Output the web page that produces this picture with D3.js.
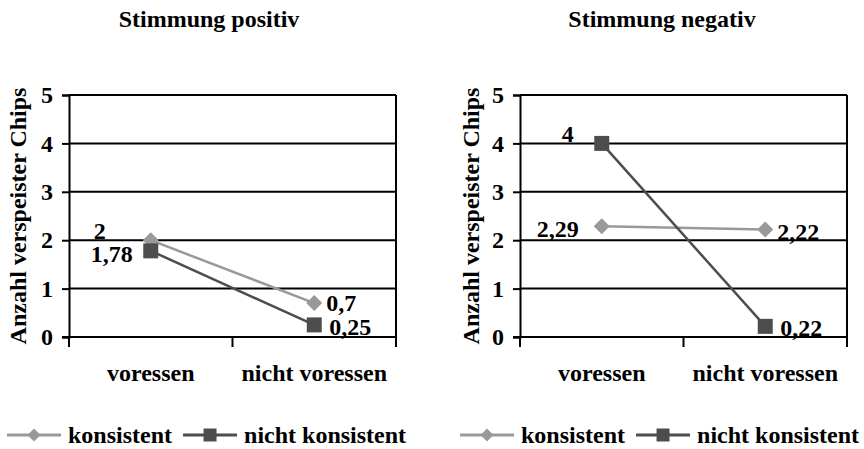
<!DOCTYPE html>
<html>
<head>
<meta charset="utf-8">
<script src="https://cdn.jsdelivr.net/npm/d3@7/dist/d3.min.js"></script>
<style>
  html, body { margin: 0; padding: 0; background: #fff; }
  svg { display: block; }
  text { font-family: "Liberation Serif", "Times New Roman", serif; font-weight: bold; fill: #000; }
</style>
</head>
<body>
<svg id="chart" width="864" height="449"></svg>
<script>
// Categories and series
const categories = ["voressen", "nicht voressen"];
const seriesNames = ["konsistent", "nicht konsistent"];
const panelTitles = ["Stimmung positiv", "Stimmung negativ"];
const yAxisTitle = "Anzahl verspeister Chips";
const yTicks = [0, 1, 2, 3, 4, 5];

// Mean number of chips eaten, mood positive
const positivKonsistent = [2, 0.7];
const positivNichtKonsistent = [1.78, 0.25];
// Mean number of chips eaten, mood negative
const negativKonsistent = [2.29, 2.22];
const negativNichtKonsistent = [4, 0.22];

// Styling
const seriesColors = ["#999999", "#4d4d4d"];
const FONT = 24;

// Panel layout and per-point label placement (dx, dy relative to the marker)
const panels = [
  {
    title: panelTitles[0], titleX: 209,
    left: 69, right: 396, axisTitleX: 26,
    values: [positivKonsistent, positivNichtKonsistent],
    labelPlacement: [
      [{anchor: "end", dx: -45, dy: -10}, {anchor: "start", dx: 12, dy: -1}],
      [{anchor: "end", dx: -18, dy: 3}, {anchor: "start", dx: 15, dy: 2}]
    ],
    legendX: 7
  },
  {
    title: panelTitles[1], titleX: 662,
    left: 520, right: 847, axisTitleX: 479,
    values: [negativKonsistent, negativNichtKonsistent],
    labelPlacement: [
      [{anchor: "end", dx: -23, dy: 2}, {anchor: "start", dx: 12, dy: 2}],
      [{anchor: "end", dx: -28, dy: -10}, {anchor: "start", dx: 15, dy: 1}]
    ],
    legendX: 460
  }
];

const TOP = 95, BOTTOM = 337;
const svg = d3.select("#chart");
const locale = d3.formatLocale({decimal: ",", thousands: ".", grouping: [3], currency: ["", " €"]});
const fmt = locale.format("~r");

function markerPath(kind, size) {
  const h = size / 2;
  if (kind === 0) {
    return `M0,${-h}L${h},0L0,${h}L${-h},0Z`;
  }
  return `M${-h},${-h}H${h}V${h}H${-h}Z`;
}

panels.forEach(p => {
  const g = svg.append("g");
  const x = d3.scaleBand().domain(categories).range([p.left, p.right]).padding(0);
  const y = d3.scaleLinear().domain([0, 5]).range([BOTTOM, TOP]);

  // Title
  g.append("text")
    .attr("x", p.titleX).attr("y", 27)
    .attr("text-anchor", "middle")
    .style("font-size", FONT + "px")
    .text(p.title);

  // Horizontal gridlines
  g.append("g").selectAll("line")
    .data(yTicks.filter(t => t > 0))
    .join("line")
    .attr("x1", p.left).attr("x2", p.right)
    .attr("y1", d => y(d)).attr("y2", d => y(d))
    .attr("stroke", "#000").attr("stroke-width", 2);

  // Right border of plot area
  g.append("line")
    .attr("x1", p.right).attr("x2", p.right)
    .attr("y1", y(5)).attr("y2", y(0))
    .attr("stroke", "#000").attr("stroke-width", 2);

  // Value axis
  const yAxis = d3.axisLeft(y).tickValues(yTicks).tickSize(7).tickPadding(9).tickFormat(d3.format("d"));
  const ya = g.append("g").attr("transform", `translate(${p.left},0)`).call(yAxis);
  ya.select(".domain").attr("stroke", "#000").attr("stroke-width", 2);
  ya.selectAll(".tick line").attr("stroke", "#000").attr("stroke-width", 2);
  ya.selectAll(".tick text")
    .style("font-size", FONT + "px")
    .style("font-family", '"Liberation Serif", serif')
    .style("font-weight", "bold")
    .attr("fill", "#000");

  // Category axis: baseline with ticks at the band boundaries
  g.append("line")
    .attr("x1", p.left - 7).attr("x2", p.right)
    .attr("y1", y(0)).attr("y2", y(0))
    .attr("stroke", "#000").attr("stroke-width", 2);
  const boundaries = categories.map(c => x(c)).concat([x.range()[1]]);
  g.append("g").selectAll("line")
    .data(boundaries)
    .join("line")
    .attr("x1", d => d).attr("x2", d => d)
    .attr("y1", y(0)).attr("y2", y(0) + 10)
    .attr("stroke", "#000").attr("stroke-width", 2);
  g.append("g").selectAll("text")
    .data(categories)
    .join("text")
    .attr("x", d => x(d) + x.bandwidth() / 2)
    .attr("y", 381)
    .attr("text-anchor", "middle")
    .style("font-size", FONT + "px")
    .text(d => d);

  // Value axis title
  g.append("text")
    .attr("transform", `translate(${p.axisTitleX},${(TOP + BOTTOM) / 2}) rotate(-90)`)
    .attr("text-anchor", "middle")
    .style("font-size", FONT + "px")
    .text(yAxisTitle);

  // Series lines, markers and value labels
  const cx = c => x(c) + x.bandwidth() / 2;
  p.values.forEach((vals, si) => {
    const pts = categories.map((c, i) => ({c, v: vals[i], i}));
    g.append("path")
      .datum(pts)
      .attr("fill", "none")
      .attr("stroke", seriesColors[si])
      .attr("stroke-width", 2.5)
      .attr("d", d3.line().x(d => cx(d.c)).y(d => y(d.v)));
    g.append("g").selectAll("path")
      .data(pts)
      .join("path")
      .attr("transform", d => `translate(${cx(d.c)},${y(d.v)})`)
      .attr("d", markerPath(si, si === 0 ? 16 : 15))
      .attr("fill", seriesColors[si]);
    g.append("g").selectAll("text")
      .data(pts)
      .join("text")
      .attr("x", d => cx(d.c) + p.labelPlacement[si][d.i].dx)
      .attr("y", d => y(d.v) + p.labelPlacement[si][d.i].dy)
      .attr("dy", "0.35em")
      .attr("text-anchor", d => p.labelPlacement[si][d.i].anchor)
      .style("font-size", FONT + "px")
      .text(d => fmt(d.v));
  });

  // Legend
  const lg = g.append("g").attr("transform", `translate(${p.legendX},435)`);
  let cursor = 0;
  seriesNames.forEach((name, si) => {
    const item = lg.append("g").attr("transform", `translate(${cursor},0)`);
    item.append("line")
      .attr("x1", 0).attr("x2", 54).attr("y1", 0).attr("y2", 0)
      .attr("stroke", seriesColors[si]).attr("stroke-width", 3);
    item.append("path")
      .attr("transform", "translate(27,0)")
      .attr("d", markerPath(si, 13))
      .attr("fill", seriesColors[si]);
    const t = item.append("text")
      .attr("x", 61).attr("y", 0).attr("dy", "0.35em")
      .style("font-size", FONT + "px")
      .text(name);
    cursor += 61 + t.node().getComputedTextLength() + 11;
  });
});
</script>
</body>
</html>
